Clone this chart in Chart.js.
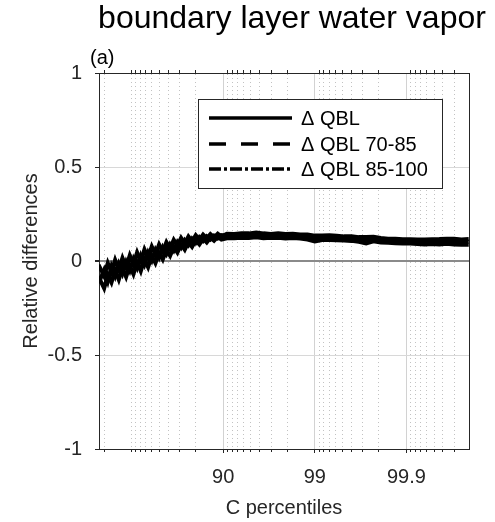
<!DOCTYPE html>
<html><head><meta charset="utf-8">
<script src="https://cdn.jsdelivr.net/npm/chart.js@4/dist/chart.umd.min.js"></script>
<style>html,body{margin:0;padding:0;background:#fff;}#wrap{width:495px;height:522px;}</style>
</head><body><div id="wrap"><canvas id="c" width="495" height="522"></canvas></div>
<script>
// x positions: -log10(1 - p/100), so 90 -> 1, 99 -> 2, 99.9 -> 3
const xPos = [-0.36,-0.30,-0.26,-0.22,-0.18,-0.14,-0.10,-0.06,-0.02,0.02,0.06,0.10,0.14,0.18,0.22,0.26,0.30,0.34,0.38,0.42,0.46,0.50,0.54,0.58,0.62,0.66,0.70,0.74,0.78,0.82,0.86,0.90,0.94,0.98,
  1.04,1.12,1.20,1.28,1.36,1.44,1.52,1.60,1.68,1.76,1.84,1.92,2.00,2.08,2.16,2.24,2.32,2.40,2.48,2.56,2.64,2.72,2.80,2.88,2.96,3.04,3.12,3.20,3.28,3.36,3.44,3.52,3.60,3.68];
const seriesLabels = ['\u0394 QBL', '\u0394 QBL 70-85', '\u0394 QBL 85-100'];
const dQBL = [-0.118,-0.048,-0.108,-0.029,-0.080,-0.016,-0.066,-0.005,-0.051,0.011,-0.035,0.028,-0.018,0.044,0.003,0.059,0.020,0.073,0.038,0.087,0.056,0.100,0.071,0.110,0.084,0.119,0.096,0.126,0.106,0.131,0.114,0.135,0.120,0.138,
  0.135,0.131,0.136,0.134,0.141,0.134,0.136,0.133,0.134,0.130,0.133,0.127,0.120,0.127,0.123,0.123,0.119,0.122,0.115,0.112,0.119,0.109,0.109,0.105,0.108,0.103,0.105,0.099,0.105,0.101,0.109,0.102,0.102,0.102];
const dQBL7085 = [-0.020,-0.080,-0.010,-0.058,0.006,-0.044,0.017,-0.032,0.030,-0.016,0.046,0.000,0.062,0.018,0.077,0.035,0.088,0.051,0.101,0.067,0.113,0.082,0.123,0.094,0.131,0.105,0.137,0.114,0.141,0.121,0.143,0.126,0.145,0.130,
  0.145,0.144,0.148,0.147,0.152,0.147,0.144,0.148,0.144,0.145,0.141,0.141,0.135,0.135,0.137,0.135,0.131,0.132,0.127,0.128,0.129,0.122,0.119,0.119,0.116,0.116,0.114,0.114,0.116,0.117,0.119,0.119,0.114,0.117];
const dQBL85100 = [-0.085,-0.145,-0.075,-0.115,-0.051,-0.100,-0.038,-0.085,-0.024,-0.070,-0.008,-0.054,0.009,-0.033,0.027,-0.012,0.042,0.008,0.059,0.027,0.075,0.045,0.088,0.060,0.100,0.075,0.110,0.088,0.118,0.099,0.124,0.108,0.128,0.114,
  0.121,0.121,0.124,0.123,0.126,0.121,0.123,0.123,0.120,0.122,0.119,0.114,0.104,0.112,0.112,0.111,0.109,0.107,0.102,0.094,0.105,0.099,0.097,0.095,0.093,0.093,0.091,0.088,0.090,0.088,0.092,0.088,0.086,0.087];
const xTickPos = [1, 2, 3];
const xTickLabels = ['90', '99', '99.9'];
const xMinorPos = [-0.301,0,0.046,0.097,0.155,0.222,0.301,0.398,0.523,0.699,
  1.046,1.097,1.155,1.222,1.301,1.398,1.523,1.699,
  2.046,2.097,2.155,2.222,2.301,2.398,2.523,2.699,
  3.046,3.097,3.155,3.222,3.301,3.398,3.523];
const yTickPos = [-1, -0.5, 0, 0.5, 1];
const yTickLabels = ['-1', '-0.5', '0', '0.5', '1'];

const FONT = "'Liberation Sans', Arial, Helvetica, sans-serif";
const AX = '#262626';
const X_MIN = -0.356, X_MAX = 3.683;

const seriesValues = [dQBL, dQBL7085, dQBL85100];
const legendDashes = [[], [17, 15], [12, 3, 3, 3]];
const datasets = seriesValues.map((arr, k) => ({
  label: seriesLabels[k],
  data: xPos.map((x, i) => ({x: x, y: arr[i]})),
  borderColor: '#000',
  borderWidth: 4,
  legendDash: legendDashes[k],
  pointRadius: 0,
  tension: 0,
  fill: false
}));

const textPlugin = {
  id: 'texts',
  afterDraw(chart) {
    const ctx = chart.ctx;
    ctx.save();
    ctx.fillStyle = '#000';
    ctx.textAlign = 'center';
    ctx.textBaseline = 'alphabetic';
    ctx.font = '32px ' + FONT;
    ctx.fillText('boundary layer water vapor', 292, 28);
    ctx.textAlign = 'left';
    ctx.font = '20px ' + FONT;
    ctx.fillText('(a)', 90, 64);
    // legend
    const bx = 198.5, by = 99.5, bw = 244, bh = 89;
    ctx.fillStyle = '#fff';
    ctx.fillRect(bx, by, bw, bh);
    ctx.strokeStyle = AX;
    ctx.lineWidth = 1;
    ctx.setLineDash([]);
    ctx.strokeRect(bx, by, bw, bh);
    const rows = [118, 144, 169];
    chart.data.datasets.forEach((ds, k) => {
      ctx.save();
      ctx.strokeStyle = '#000';
      ctx.lineWidth = 3.5;
      ctx.setLineDash(ds.legendDash || []);
      ctx.beginPath();
      ctx.moveTo(209, rows[k]);
      ctx.lineTo(292, rows[k]);
      ctx.stroke();
      ctx.restore();
      ctx.fillStyle = '#000';
      ctx.font = '20px ' + FONT;
      ctx.textAlign = 'left';
      ctx.textBaseline = 'middle';
      ctx.fillText(ds.label, 301, rows[k] + 1);
    });
    ctx.restore();
  }
};

new Chart(document.getElementById('c'), {
  type: 'line',
  data: { datasets: datasets },
  options: {
    responsive: false,
    animation: false,
    devicePixelRatio: 1,
    layout: { padding: { left: 0, right: 26, top: 73, bottom: 0 } },
    plugins: { legend: { display: false }, title: { display: false }, tooltip: { enabled: false } },
    scales: {
      x: {
        type: 'linear', position: 'bottom', min: X_MIN, max: X_MAX, weight: 1,
        afterBuildTicks: s => { s.ticks = xTickPos.map(v => ({value: v})); },
        afterFit: s => { s.height = 73; },
        ticks: { callback: (v, i) => xTickLabels[i], autoSkip: false, maxRotation: 0, padding: 12,
                 font: { family: FONT, size: 20 }, color: AX },
        grid: { color: '#d2d2d2', lineWidth: 1, tickLength: 4, tickColor: AX },
        border: { display: true, color: AX, width: 1 },
        title: { display: true, text: 'C percentiles', color: AX, font: { family: FONT, size: 20 },
                 padding: { top: 0, bottom: 2 } }
      },
      x3: {
        type: 'linear', position: 'bottom', min: X_MIN, max: X_MAX, weight: 0,
        afterBuildTicks: s => { s.ticks = xMinorPos.map(v => ({value: v})); },
        afterFit: s => { s.height = 0; },
        ticks: { display: false },
        grid: { drawOnChartArea: false, tickLength: 3, tickColor: AX },
        border: { display: false }
      },
      x2: {
        type: 'linear', position: 'top', min: X_MIN, max: X_MAX,
        afterBuildTicks: s => { s.ticks = xMinorPos.map(v => ({value: v})); },
        afterFit: s => { s.height = 0; },
        ticks: { display: false },
        grid: { color: 'rgba(120,120,120,0.45)', lineWidth: 1, tickLength: 3, tickColor: AX },
        border: { display: true, color: AX, width: 1, dash: [1, 3] }
      },
      y: {
        type: 'linear', position: 'left', min: -1, max: 1,
        afterBuildTicks: s => { s.ticks = yTickPos.map(v => ({value: v})); },
        afterFit: s => { s.width = 99; },
        ticks: { callback: (v, i) => yTickLabels[i], padding: 13, font: { family: FONT, size: 20 }, color: AX },
        grid: {
          color: c => (c.tick && c.tick.value === 0) ? '#8a8a8a' : (c.tick && Math.abs(c.tick.value) === 1 ? 'rgba(0,0,0,0)' : '#d8d8d8'),
          lineWidth: c => (c.tick && c.tick.value === 0) ? 2 : 1,
          tickLength: 4, tickColor: AX
        },
        border: { display: true, color: AX, width: 1 },
        title: { display: true, text: 'Relative differences', color: AX, font: { family: FONT, size: 20 },
                 padding: { top: 19, bottom: 0 } }
      },
      y2: {
        type: 'linear', position: 'right', min: -1, max: 1,
        afterFit: s => { s.width = 0; },
        ticks: { display: false },
        grid: { drawOnChartArea: false, drawTicks: false },
        border: { display: true, color: AX, width: 1 }
      }
    }
  },
  plugins: [textPlugin]
});
</script>
</body></html>
